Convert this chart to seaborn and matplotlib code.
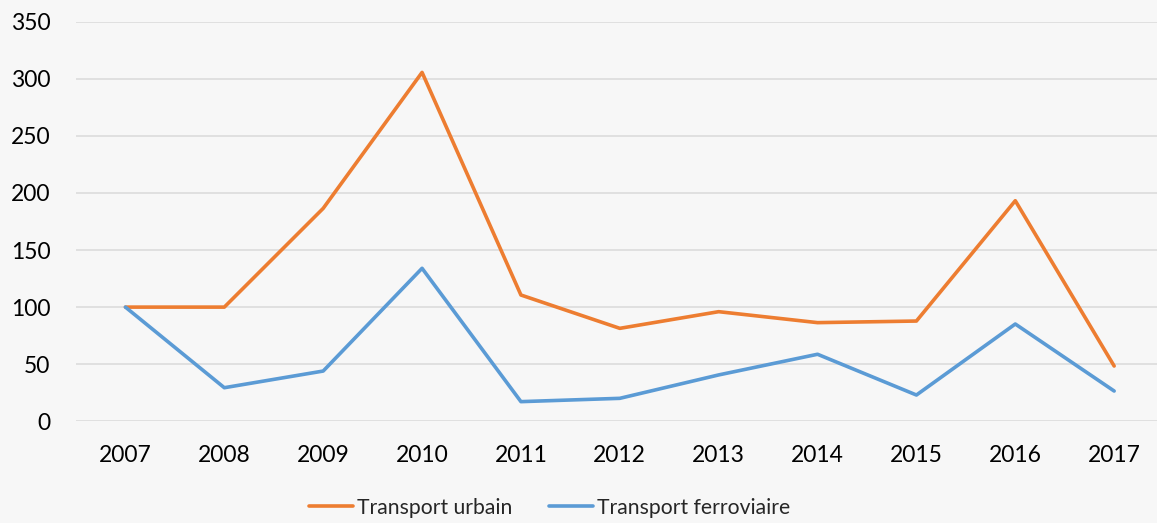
import matplotlib
matplotlib.use("Agg")
import matplotlib.pyplot as plt
import seaborn as sns
import pandas as pd

# Data (index 2007 = 100)
years = ["2007", "2008", "2009", "2010", "2011", "2012",
         "2013", "2014", "2015", "2016", "2017"]
transport_urbain = [100, 100, 186.5, 305.6, 110.6, 81.4, 96, 86.4, 87.8, 193.2, 48.4]
transport_ferroviaire = [100, 29.4, 44, 134, 17.2, 20.1, 40.6, 58.7, 23, 85.2, 26.5]

series_names = ["Transport urbain", "Transport ferroviaire"]
palette = {"Transport urbain": "#ED7D31", "Transport ferroviaire": "#5B9BD5"}

df = pd.concat([
    pd.DataFrame({"annee": years, "valeur": transport_urbain, "serie": series_names[0]}),
    pd.DataFrame({"annee": years, "valeur": transport_ferroviaire, "serie": series_names[1]}),
])

sns.set_style("white")
plt.rcParams["font.family"] = ["Lato", "DejaVu Sans"]

bg = "#F7F7F7"
fig = plt.figure(figsize=(11.57, 5.23), dpi=100, facecolor=bg)
ax = fig.add_axes([0.0657, 0.1945, 0.94, 0.764])
ax.set_facecolor(bg)

sns.lineplot(data=df, x="annee", y="valeur", hue="serie", palette=palette,
             linewidth=2.6, sort=False, ax=ax)

ax.set_xlim(-0.5, len(years) - 0.5)
ax.set_ylim(0, 350)
ax.set_yticks(range(0, 351, 50))
ax.yaxis.grid(True, color="#D9D9D9", linewidth=1.1)
ax.set_axisbelow(True)
for s in ax.spines.values():
    s.set_visible(False)
ax.tick_params(axis="both", length=0, labelsize=16.5, colors="#000000")
ax.tick_params(axis="x", pad=17)
ax.tick_params(axis="y", pad=18.5)
ax.set_xlabel("")
ax.set_ylabel("")

# legend centred under the chart, in figure coordinates
handles, labels = ax.get_legend_handles_labels()
ax.get_legend().remove()
fig.legend(handles, labels, loc="center", bbox_to_anchor=(0.475, 0.029),
           ncol=2, frameon=False, fontsize=15.2, handlelength=2.1,
           handletextpad=0.2, columnspacing=1.7)

fig.savefig("out.png", dpi=100, facecolor=bg)
